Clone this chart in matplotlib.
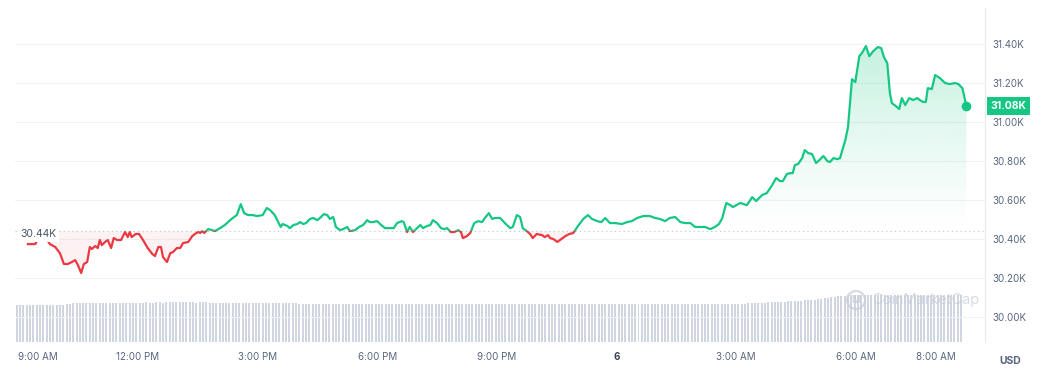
import numpy as np
import matplotlib
matplotlib.use("Agg")
import matplotlib.pyplot as plt
from matplotlib.path import Path
from matplotlib.patches import Rectangle, Ellipse
from matplotlib.colors import to_rgb

plt.rcParams['font.family'] = ['Inter', 'DejaVu Sans']

# ---- data: minutes since 9:00 AM (day 5) and BTC price (USD) ----
t_min = [15, 26, 32, 41, 48, 56, 63, 69, 75, 81, 86, 90, 95, 99, 104, 108, 111, 116, 120, 123,
         126, 131, 135, 140, 144, 149, 155, 161, 165, 168, 171, 177, 182, 188, 195, 202, 206, 211,
         215, 218, 224, 229, 233, 239, 244, 248, 256, 262, 266, 271, 274, 277, 280, 286, 292, 296,
         304, 311, 319, 323, 329, 335, 340, 346, 353, 359, 368, 374, 379, 386, 395, 398, 405, 409,
         414, 420, 424, 429, 433, 439, 444, 450, 454, 460, 465, 469, 474, 478, 484, 489, 495, 499,
         507, 513, 519, 525, 529, 534, 540, 546, 552, 559, 565, 570, 577, 580, 585, 589, 594, 600,
         605, 609, 615, 620, 624, 630, 636, 641, 645, 651, 656, 662, 666, 669, 675, 680, 686, 692,
         698, 702, 708, 713, 717, 725, 732, 740, 744, 750, 755, 759, 765, 770, 774, 780, 788, 792,
         797, 800, 805, 811, 815, 823, 829, 835, 842, 850, 857, 863, 871, 877, 883, 890, 898, 908,
         916, 923, 931, 940, 950, 958, 965, 973, 980, 988, 996, 1003, 1011, 1018, 1026, 1033, 1041,
         1048, 1054, 1059, 1065, 1071, 1075, 1086, 1096, 1104, 1110, 1119, 1126, 1134, 1140, 1146,
         1150, 1156, 1161, 1165, 1168, 1173, 1179, 1183, 1188, 1194, 1200, 1205, 1211, 1217, 1221,
         1226, 1232, 1236, 1244, 1248, 1254, 1259, 1265, 1269, 1275, 1280, 1286, 1293, 1298, 1302,
         1307, 1311, 1314, 1320, 1325, 1329, 1334, 1340, 1346, 1352, 1356, 1361, 1365, 1368, 1374,
         1379, 1386, 1394, 1401, 1409, 1414, 1420, 1426]
price = [30374, 30374, 30415, 30410, 30374, 30359, 30328, 30272, 30272, 30282, 30292, 30267, 30226,
         30272, 30282, 30359, 30349, 30364, 30354, 30395, 30369, 30385, 30395, 30354, 30405, 30395,
         30395, 30436, 30410, 30436, 30410, 30426, 30426, 30395, 30354, 30323, 30313, 30359, 30359,
         30308, 30282, 30328, 30333, 30354, 30354, 30379, 30385, 30415, 30426, 30436, 30431, 30441,
         30431, 30451, 30446, 30441, 30456, 30472, 30497, 30508, 30523, 30579, 30533, 30523, 30523,
         30518, 30523, 30559, 30549, 30523, 30462, 30477, 30467, 30456, 30472, 30477, 30487, 30477,
         30482, 30503, 30508, 30497, 30508, 30528, 30523, 30503, 30513, 30462, 30446, 30451, 30462,
         30441, 30446, 30462, 30472, 30497, 30487, 30487, 30492, 30472, 30456, 30456, 30456, 30482,
         30492, 30487, 30436, 30462, 30436, 30456, 30472, 30456, 30467, 30472, 30497, 30482, 30456,
         30451, 30456, 30436, 30436, 30446, 30436, 30405, 30415, 30431, 30482, 30492, 30487, 30508,
         30533, 30503, 30508, 30508, 30482, 30456, 30462, 30523, 30513, 30456, 30441, 30426, 30405,
         30426, 30420, 30410, 30420, 30405, 30400, 30385, 30395, 30415, 30426, 30431, 30467, 30503,
         30523, 30503, 30492, 30487, 30508, 30482, 30482, 30477, 30487, 30492, 30508, 30518, 30518,
         30508, 30503, 30492, 30508, 30513, 30487, 30482, 30482, 30462, 30462, 30462, 30451, 30462,
         30477, 30508, 30585, 30574, 30564, 30585, 30574, 30615, 30595, 30626, 30636, 30677, 30713,
         30697, 30697, 30733, 30738, 30738, 30779, 30785, 30815, 30856, 30841, 30836, 30790, 30805,
         30826, 30800, 30795, 30815, 30810, 30815, 30908, 30974, 31220, 31205, 31338, 31354, 31390,
         31338, 31364, 31385, 31379, 31333, 31303, 31149, 31097, 31082, 31067, 31123, 31087, 31123,
         31113, 31123, 31113, 31103, 31103, 31174, 31169, 31241, 31226, 31200, 31195, 31200, 31195,
         31174, 31082]
base_price = 30440  # opening price reference (30.44K)

# 24h rolling volume (billion USD), one value every 5 minutes, row = one hour
vol_start_min = -2
vol_step_min = 5
volume = [
    14.2, 14.2, 14.2, 14.2, 14.2, 14.2, 14.2, 14.2, 14.2, 14.2, 14.2, 14.2,
    14.2, 14.2, 14.3, 14.5, 14.7, 14.9, 15.0, 15.0, 15.0, 15.0, 15.0, 15.0,
    15.0, 15.1, 15.0, 15.1, 15.1, 15.0, 15.1, 15.1, 15.1, 15.1, 15.1, 15.1,
    15.1, 15.1, 15.1, 15.2, 15.1, 15.1, 15.2, 15.2, 15.1, 15.2, 15.2, 15.2,
    15.2, 15.2, 15.2, 15.2, 15.2, 15.2, 15.1, 15.2, 15.2, 15.2, 15.1, 15.1,
    15.1, 15.1, 15.1, 15.1, 15.1, 15.0, 15.1, 15.0, 15.0, 15.0, 15.0, 15.0,
    15.0, 15.0, 14.9, 14.9, 14.9, 14.9, 14.9, 14.9, 14.9, 14.9, 14.9, 14.9,
    14.9, 14.8, 14.8, 14.8, 14.8, 14.8, 14.8, 14.8, 14.8, 14.8, 14.8, 14.8,
    14.8, 14.8, 14.8, 14.8, 14.7, 14.7, 14.7, 14.7, 14.7, 14.7, 14.7, 14.7,
    14.7, 14.7, 14.7, 14.7, 14.7, 14.7, 14.7, 14.7, 14.7, 14.7, 14.7, 14.7,
    14.7, 14.7, 14.7, 14.6, 14.6, 14.6, 14.6, 14.6, 14.6, 14.6, 14.6, 14.6,
    14.6, 14.6, 14.6, 14.6, 14.6, 14.6, 14.6, 14.6, 14.6, 14.6, 14.6, 14.6,
    14.6, 14.6, 14.6, 14.6, 14.6, 14.6, 14.6, 14.6, 14.6, 14.6, 14.6, 14.6,
    14.6, 14.6, 14.6, 14.6, 14.6, 14.6, 14.6, 14.6, 14.6, 14.6, 14.6, 14.6,
    14.6, 14.6, 14.6, 14.6, 14.6, 14.6, 14.6, 14.6, 14.6, 14.6, 14.6, 14.6,
    14.6, 14.6, 14.6, 14.6, 14.6, 14.6, 14.6, 14.6, 14.6, 14.6, 14.6, 14.6,
    14.6, 14.6, 14.6, 14.6, 14.6, 14.6, 14.6, 14.6, 14.6, 14.6, 14.7, 14.7,
    14.7, 14.7, 14.7, 14.7, 14.7, 14.7, 14.7, 14.7, 14.7, 14.7, 14.7, 14.7,
    14.7, 14.7, 14.8, 14.8, 14.9, 14.9, 15.0, 15.0, 15.1, 15.1, 15.2, 15.2,
    15.3, 15.4, 15.4, 15.5, 15.6, 15.7, 15.8, 15.8, 15.9, 16.0, 16.1, 16.2,
    16.3, 16.5, 16.7, 16.9, 17.1, 17.3, 17.5, 17.6, 17.7, 17.8, 17.9, 18.0,
    18.0, 18.0, 18.0, 18.0, 18.1, 18.1, 18.1, 18.1, 18.1, 18.1, 18.1, 18.1,
    18.1, 18.1, 18.1, 18.1, 18.1, 18.1, 18.1, 18.1, 18.1, 18.1, 18.1, 18.1,
    18.1, 18.1, 18.1, 18.1, 18.1, 18.1, 18.1, 18.1, 18.1,
]

x_ticks = [0, 180, 360, 540, 720, 900, 1080, 1260, 1380]
x_labels = ['9:00 AM', '12:00 PM', '3:00 PM', '6:00 PM', '9:00 PM', '6', '3:00 AM', '6:00 AM', '8:00 AM']
y_ticks = [30000, 30200, 30400, 30600, 30800, 31000, 31200, 31400]

# ---- style ----
GREEN = '#16c784'
RED = '#ea3943'
TXT = '#58667e'
VOLC = '#cfd5e1'

W, H = 1049, 381
fig = plt.figure(figsize=(W / 100, H / 100), dpi=100)
fig.patch.set_facecolor('white')

L, R, B, T = 15, 985, 342, 8
xlim = (-4.5, 1454)
ylim = (29872, 31585)

# volume axes
vax = fig.add_axes([L / W, (H - B) / H, (R - L) / W, 52 / H])
vt = vol_start_min + vol_step_min * np.arange(len(volume))
vax.bar(vt, volume, width=3.0, color=VOLC, linewidth=0, align='center')
vax.set_xlim(*xlim)
vax.set_ylim(0, 20)
vax.axis('off')

ax = fig.add_axes([L / W, (H - B) / H, (R - L) / W, (B - T) / H])
ax.set_facecolor('none')
t = np.array(t_min, dtype=float)
p = np.array(price, dtype=float)


def gradient_fill(mask_up):
    if mask_up:
        coll = ax.fill_between(t, p, base_price, where=p >= base_price, interpolate=True,
                               facecolor='none', edgecolor='none')
        ext = [t[0], t[-1], base_price, ylim[1]]
        alpha = np.linspace(0.0, 0.38, 256) ** 1.2
        col = to_rgb(GREEN)
    else:
        coll = ax.fill_between(t, p, base_price, where=p <= base_price, interpolate=True,
                               facecolor='none', edgecolor='none')
        ext = [t[0], t[-1], ylim[0], base_price]
        alpha = np.linspace(0.11, 0.06, 256)
        col = to_rgb(RED)
    paths = coll.get_paths()
    if not paths:
        return
    cp = Path.make_compound_path(*paths)
    img = np.zeros((256, 1, 4))
    img[..., 0], img[..., 1], img[..., 2] = col
    img[:, 0, 3] = alpha
    im = ax.imshow(img, extent=ext, origin='lower', aspect='auto', zorder=1,
                   interpolation='bilinear')
    im.set_clip_path(cp, ax.transData)


gradient_fill(True)
gradient_fill(False)

# price line, green above base, red below
lg, = ax.plot(t, p, color=GREEN, lw=1.6, zorder=3, solid_joinstyle='round')
lr, = ax.plot(t, p, color=RED, lw=1.6, zorder=3, solid_joinstyle='round')
lg.set_clip_path(Rectangle((xlim[0], base_price), xlim[1] - xlim[0], ylim[1] - base_price,
                           transform=ax.transData))
lr.set_clip_path(Rectangle((xlim[0], ylim[0]), xlim[1] - xlim[0], base_price - ylim[0],
                           transform=ax.transData))
ax.plot([t[-1]], [p[-1]], 'o', color=GREEN, ms=6, zorder=4)

# base dotted line
ax.axhline(base_price, color='#c4cad4', lw=0.9, ls=(0, (1, 2.5)), zorder=2)
ax.text(xlim[0] + 5 / 970 * (xlim[1] - xlim[0]), base_price - 15, '30.44K', fontsize=7.5,
        color='#4a5568', va='center', ha='left', zorder=5,
        bbox=dict(boxstyle='square,pad=0.25', fc='white', ec='none'))

ax.set_xlim(*xlim)
ax.set_ylim(*ylim)

# grid
for yv in y_ticks + [31600]:
    ax.axhline(yv, color='#f1f2f4', lw=0.8, zorder=0)

ax.yaxis.tick_right()
ax.set_yticks(y_ticks)
ax.set_yticklabels([f"{v / 1000:.2f}K" for v in y_ticks])
ax.tick_params(axis='y', length=0, pad=5, labelsize=7, labelcolor=TXT)
ax.set_xticks(x_ticks)
ax.set_xticklabels(x_labels)
ax.tick_params(axis='x', length=0, pad=7, labelsize=7, labelcolor=TXT)
xl = ax.get_xticklabels()
xl[0].set_horizontalalignment('left')
xl[5].set_fontweight('bold')
xl[5].set_color('#3a4456')

for s in ['top', 'left', 'bottom']:
    ax.spines[s].set_visible(False)
ax.spines['right'].set_color('#e8eaee')
ax.spines['right'].set_linewidth(0.8)
ax.axhline(ylim[0], color='#eceef1', lw=0.8, zorder=0)

# current price tag
ax.annotate('31.08K', xy=(1.0, p[-1]), xycoords=('axes fraction', 'data'),
            xytext=(4, 0), textcoords='offset points', ha='left', va='center',
            fontsize=7.5, fontweight='bold', color='white', annotation_clip=False,
            bbox=dict(boxstyle='square,pad=0.35', fc=GREEN, ec='none'), zorder=6)

# USD label
fig.text(1010 / W, 1 - 361 / H, 'USD', fontsize=7.5, fontweight='bold', color=TXT,
         ha='center', va='center')

# watermark
fig.text(872 / W, 1 - 300 / H, 'CoinMarketCap', fontsize=10.5, color='#c9ced7',
         ha='left', va='center', alpha=0.75, zorder=10)
fig.add_artist(Ellipse((856 / W, 1 - 300 / H), 18 / W, 18 / H,
                       transform=fig.transFigure, fill=False,
                       ec='#c9ced7', lw=1.6, alpha=0.75, zorder=10))
fig.text(856 / W, 1 - 300 / H, 'M', fontsize=7, color='#c9ced7', ha='center', va='center',
         fontweight='bold', alpha=0.75, zorder=10)

fig.savefig('out.png', dpi=100, facecolor='white')
